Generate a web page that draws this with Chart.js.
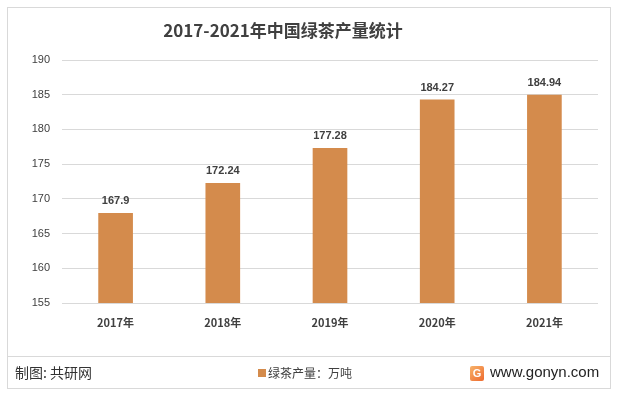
<!DOCTYPE html>
<html>
<head>
<meta charset="utf-8">
<script src="https://cdn.jsdelivr.net/npm/chart.js@4/dist/chart.umd.min.js"></script>
<style>
    html, body { margin: 0; padding: 0; background: #fff; }
    #wrap { width: 618px; height: 395px; position: relative; }
</style>
</head>
<body>
<div id="wrap"><canvas id="teaChart" width="618" height="395"></canvas></div>
<script>
// Chart data
const years = ['2017年', '2018年', '2019年', '2020年', '2021年'];
const output = [167.9, 172.24, 177.28, 184.27, 184.94];
const yTicks = [155, 160, 165, 170, 175, 180, 185, 190];

const chartTitle = '2017-2021年中国绿茶产量统计';
const seriesName = '绿茶产量：万吨';
const sourceText = '制图: 共研网';
const siteText = 'www.gonyn.com';

const BAR_COLOR = '#D48B4C';
const TEXT_DARK = '#404040';
const FONT = '"Liberation Sans", "Noto Sans CJK SC", sans-serif';
const CJK_FONT = '"Noto Sans CJK SC", "Liberation Sans", sans-serif';

// Frame, title, footer and value labels
const decorPlugin = {
    id: 'decor',
    beforeDraw(chart) {
        const ctx = chart.ctx;
        ctx.save();
        ctx.fillStyle = '#fff';
        ctx.fillRect(0, 0, chart.width, chart.height);
        ctx.strokeStyle = '#d9d9d9';
        ctx.lineWidth = 1;
        ctx.strokeRect(7.5, 7.5, 603, 381);
        // footer separator
        ctx.beginPath();
        ctx.moveTo(8, 356.5);
        ctx.lineTo(610, 356.5);
        ctx.stroke();
        ctx.restore();
    },
    afterDraw(chart) {
        const ctx = chart.ctx;
        ctx.save();
        // title
        ctx.fillStyle = TEXT_DARK;
        ctx.font = 'bold 17px ' + CJK_FONT;
        ctx.textAlign = 'center';
        ctx.textBaseline = 'middle';
        ctx.fillText(chartTitle, 283, 31);

        // footer
        ctx.font = '14px ' + CJK_FONT;
        ctx.textAlign = 'left';
        ctx.fillStyle = '#333';
        ctx.fillText(sourceText, 15, 373);

        ctx.fillStyle = BAR_COLOR;
        ctx.fillRect(258, 369, 8, 8);
        ctx.fillStyle = '#404040';
        ctx.font = '12px ' + CJK_FONT;
        ctx.fillText(seriesName, 268, 373);

        // site logo
        const g = ctx.createLinearGradient(470, 366, 484, 381);
        g.addColorStop(0, '#f7b36a');
        g.addColorStop(1, '#ee6a2f');
        ctx.fillStyle = g;
        ctx.beginPath();
        ctx.roundRect(470, 366, 14, 15, 2);
        ctx.fill();
        ctx.fillStyle = '#fff';
        ctx.font = 'bold 11px ' + FONT;
        ctx.textAlign = 'center';
        ctx.fillText('G', 477, 374);

        ctx.fillStyle = '#222';
        ctx.font = '15px ' + FONT;
        ctx.textAlign = 'left';
        ctx.fillText(siteText, 490, 373);

        // bar value labels
        const meta = chart.getDatasetMeta(0);
        ctx.fillStyle = TEXT_DARK;
        ctx.font = 'bold 11px ' + FONT;
        ctx.textAlign = 'center';
        ctx.textBaseline = 'alphabetic';
        meta.data.forEach((bar, i) => {
            ctx.fillText(String(output[i]), bar.x, bar.y - 9);
        });
        ctx.restore();
    }
};

new Chart(document.getElementById('teaChart'), {
    type: 'bar',
    data: {
        labels: years,
        datasets: [{
            label: seriesName,
            data: output,
            backgroundColor: BAR_COLOR,
            borderWidth: 0,
            barThickness: 34
        }]
    },
    options: {
        responsive: false,
        animation: false,
        layout: { padding: { left: 10, right: 20, top: 60, bottom: 42 } },
        plugins: {
            legend: { display: false },
            title: { display: false },
            tooltip: { enabled: false }
        },
        scales: {
            x: {
                grid: { display: false, drawTicks: false },
                border: { display: false },
                ticks: {
                    color: TEXT_DARK,
                    padding: 13,
                    font: { family: CJK_FONT, size: 11, weight: 'bold' }
                },
                afterFit: s => { s.height = 50; }
            },
            y: {
                min: 155,
                max: 190,
                afterBuildTicks: s => { s.ticks = yTicks.map(v => ({ value: v })); },
                grid: { color: '#d9d9d9', drawTicks: false },
                border: { display: false },
                ticks: {
                    color: TEXT_DARK,
                    padding: 12,
                    font: { family: FONT, size: 11 }
                },
                afterFit: s => { s.width = 52; }
            }
        }
    },
    plugins: [decorPlugin]
});
</script>
</body>
</html>
